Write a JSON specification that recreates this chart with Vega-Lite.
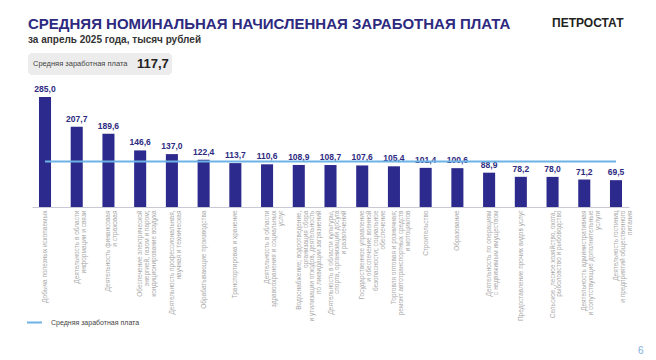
{
  "$schema": "https://vega.github.io/schema/vega-lite/v6.json",
  "width": 597,
  "height": 122,
  "autosize": {"type": "none"},
  "padding": {"left": 32, "top": 85, "right": 27, "bottom": 153},
  "background": "white",
  "title": {
    "text": "СРЕДНЯЯ НОМИНАЛЬНАЯ НАЧИСЛЕННАЯ ЗАРАБОТНАЯ ПЛАТА",
    "subtitle": "за апрель 2025 года, тысяч рублей",
    "anchor": "start",
    "frame": "group",
    "dx": -4,
    "offset": -28,
    "font": "Liberation Sans",
    "fontSize": 15,
    "fontWeight": "bold",
    "color": "#2d2a7f",
    "subtitleFont": "Liberation Sans Narrow, Liberation Sans",
    "subtitleFontSize": 10,
    "subtitleFontWeight": "bold",
    "subtitleColor": "#333333",
    "subtitlePadding": 3
  },
  "layer": [
    {
      "data": {
        "values": [
          {"cat": "Добыча полезных ископаемых", "v": 285.0, "avg": 117.7},
          {"cat": "Деятельность в области|информации и связи", "v": 207.7, "avg": 117.7},
          {"cat": "Деятельность финансовая|и страховая", "v": 189.6, "avg": 117.7},
          {"cat": "Обеспечение электрической|энергией, газом и паром;|кондиционирование воздуха", "v": 146.6, "avg": 117.7},
          {"cat": "Деятельность профессиональная,|научная и техническая", "v": 137.0, "avg": 117.7},
          {"cat": "Обрабатывающие производства", "v": 122.4, "avg": 117.7},
          {"cat": "Транспортировка и хранение", "v": 113.7, "avg": 117.7},
          {"cat": "Деятельность в области|здравоохранения и социальных|услуг", "v": 110.6, "avg": 117.7},
          {"cat": "Водоснабжение; водоотведение,|организация сбора|и утилизации отходов, деятельность|по ликвидации загрязнений", "v": 108.9, "avg": 117.7},
          {"cat": "Деятельность в области культуры,|спорта, организации досуга|и развлечений", "v": 108.7, "avg": 117.7},
          {"cat": "Государственное управление|и обеспечение военной|безопасности; социальное|обеспечение", "v": 107.6, "avg": 117.7},
          {"cat": "Торговля оптовая и розничная;|ремонт автотранспортных средств|и мотоциклов", "v": 105.4, "avg": 117.7},
          {"cat": "Строительство", "v": 101.4, "avg": 117.7},
          {"cat": "Образование", "v": 100.6, "avg": 117.7},
          {"cat": "Деятельность по операциям|с недвижимым имуществом", "v": 88.9, "avg": 117.7},
          {"cat": "Предоставление прочих видов услуг", "v": 78.2, "avg": 117.7},
          {"cat": "Сельское, лесное хозяйство, охота,|рыболовство и рыбоводство", "v": 78.0, "avg": 117.7},
          {"cat": "Деятельность административная|и сопутствующие дополнительные|услуги", "v": 71.2, "avg": 117.7},
          {"cat": "Деятельность гостиниц|и предприятий общественного|питания", "v": 69.5, "avg": 117.7}
        ]
      },
      "encoding": {
        "x": {
          "field": "cat",
          "type": "nominal",
          "sort": null,
          "scale": {"paddingInner": 0.62, "paddingOuter": 0.22},
          "axis": {
            "title": null,
            "labelAngle": -90,
            "labelAlign": "right",
            "labelBaseline": "middle",
            "labelFont": "Liberation Sans",
            "labelFontSize": 6.5,
            "labelColor": "#a8a8a8",
            "labelLineHeight": 6.8,
            "labelPadding": 3,
            "labelLimit": 0,
            "labelOverlap": false,
            "labelExpr": "split(datum.label, '|')",
            "ticks": false,
            "domainColor": "#c9c9d6",
            "domainWidth": 1
          }
        }
      },
      "layer": [
        {
          "mark": {"type": "bar", "color": "#2c2a8c"},
          "encoding": {
            "y": {"field": "v", "type": "quantitative", "scale": {"domain": [0, 316], "nice": false}, "axis": null}
          }
        },
        {
          "mark": {"type": "text", "baseline": "alphabetic", "dy": -5, "font": "Liberation Sans", "fontSize": 8.5, "fontWeight": "bold", "color": "#2d2a7f"},
          "encoding": {
            "y": {"field": "v", "type": "quantitative"},
            "text": {"field": "v", "type": "quantitative", "format": ".1f"}
          }
        },
        {
          "mark": {"type": "line", "strokeWidth": 2},
          "encoding": {
            "y": {"field": "avg", "type": "quantitative"},
            "color": {
              "datum": "Средняя заработная плата",
              "type": "nominal",
              "scale": {"range": ["#6db3e6"]},
              "legend": {
                "title": null,
                "orient": "none",
                "legendX": -6,
                "legendY": 229,
                "symbolType": "stroke",
                "symbolSize": 225,
                "symbolStrokeWidth": 2,
                "labelFont": "Liberation Sans",
                "labelFontSize": 7,
                "labelColor": "#444444",
                "labelOffset": 8
              }
            }
          }
        }
      ]
    },
    {
      "data": {"values": [{"t": "Средняя заработная плата", "m": "117,7"}]},
      "layer": [
        {
          "mark": {"type": "rect", "x": -4, "x2": 140, "y": -32, "y2": -10, "cornerRadius": 4, "color": "#ececec"},
          "encoding": {}
        },
        {
          "mark": {"type": "text", "x": 1, "y": -21, "align": "left", "baseline": "middle", "font": "Liberation Sans", "fontSize": 7.5, "color": "#444444"},
          "encoding": {"text": {"field": "t"}}
        },
        {
          "mark": {"type": "text", "x": 105, "y": -21, "align": "left", "baseline": "middle", "font": "Liberation Sans", "fontSize": 13, "fontWeight": "bold", "color": "#222222"},
          "encoding": {"text": {"field": "m"}}
        }
      ]
    },
    {
      "data": {"values": [{"t": "ПЕТРОСТАТ"}]},
      "mark": {"type": "text", "x": 520, "y": -58, "align": "left", "baseline": "alphabetic", "font": "Liberation Sans", "fontSize": 12, "fontWeight": "bold", "color": "#222222"},
      "encoding": {"text": {"field": "t"}}
    },
    {
      "data": {"values": [{"t": "6"}]},
      "mark": {"type": "text", "x": 606, "y": 269, "align": "left", "baseline": "alphabetic", "font": "Liberation Sans", "fontSize": 10, "color": "#7ab0db"},
      "encoding": {"text": {"field": "t"}}
    }
  ],
  "config": {
    "view": {"stroke": null},
    "locale": {"number": {"decimal": ",", "thousands": " ", "grouping": [3], "currency": ["", ""]}}
  }
}
